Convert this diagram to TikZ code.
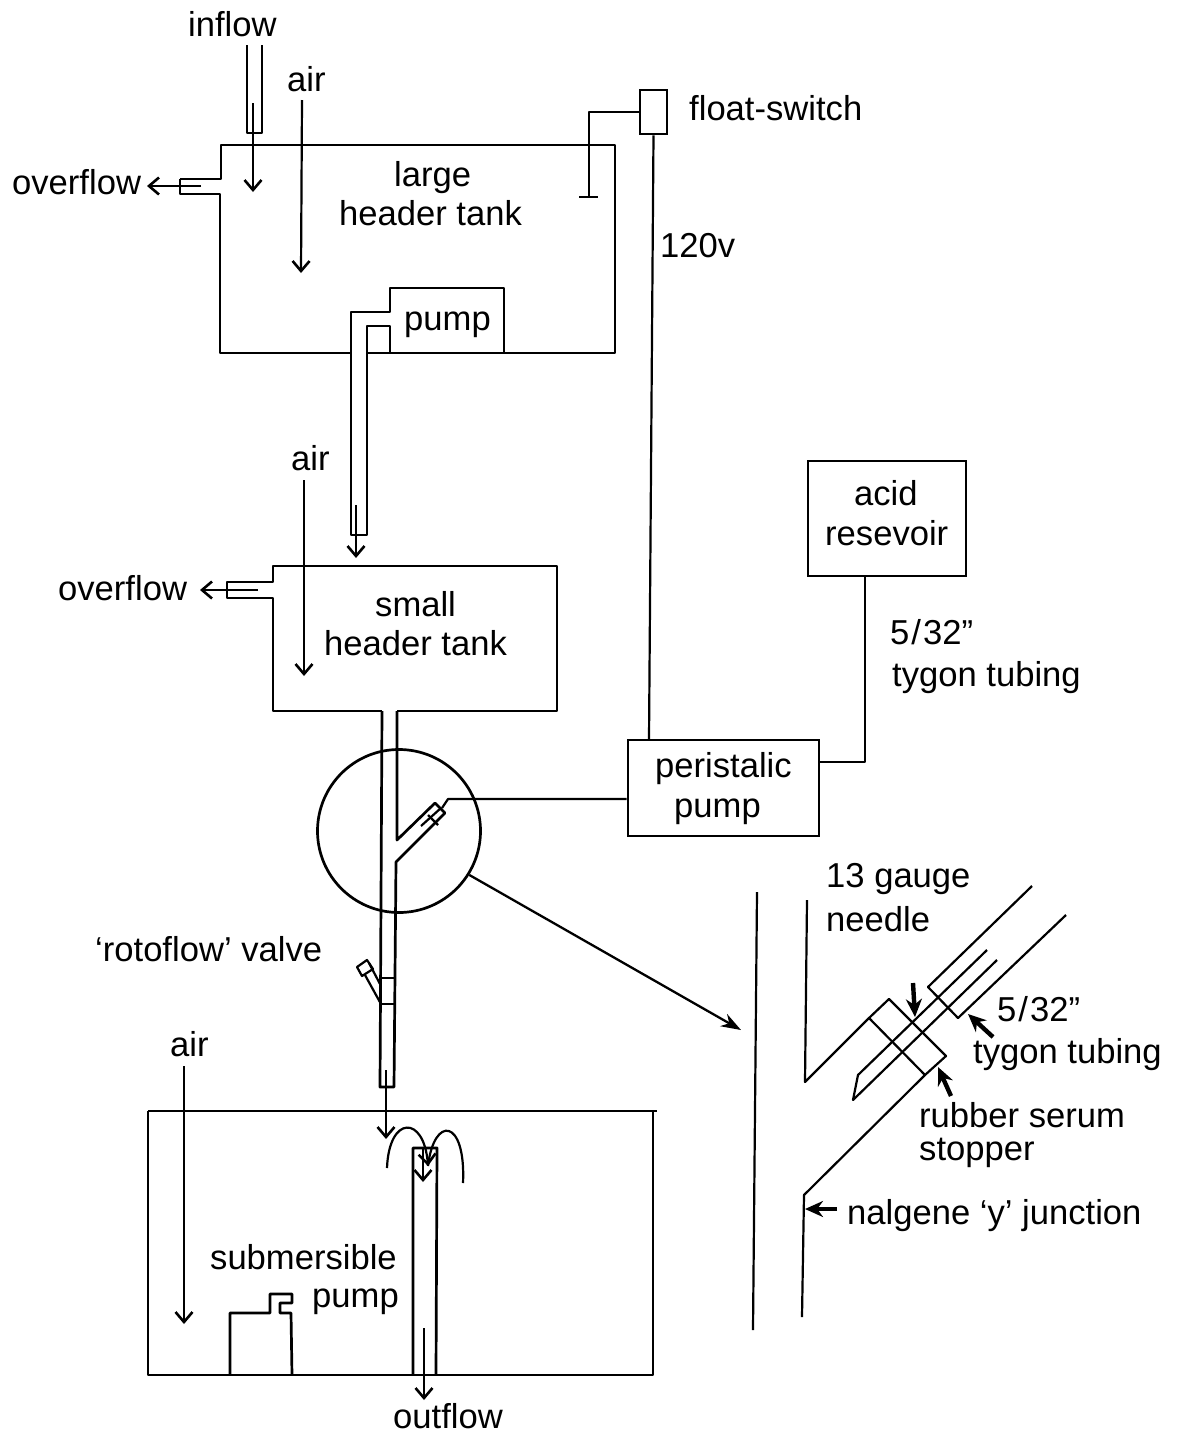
\documentclass[tikz,border=0pt]{standalone}
\usepackage{fontspec}
\setmainfont{Liberation Sans}
\usetikzlibrary{arrows.meta, calc, positioning}
\tikzset{
  tube/.style={line width=2.7pt, line join=round},
  thin tube/.style={line width=2.2pt, line join=round},
  lab/.style={inner sep=0pt, anchor=base west, font=\fontsize{34.6}{41}\selectfont},
  unit/.style={rectangle, draw, line width=2.7pt, inner sep=0pt},
  flow/.style={-{Straight Barb[length=10pt, width=17pt, line width=2.6pt]}, line width=2.2pt},
  point/.style={-{Stealth[length=18pt, width=16pt]}, line width=4.4pt}
}
\begin{document}
\begin{tikzpicture}[x=1pt, y=-1pt]
  \useasboundingbox (0,0) rectangle (1179,1433);

  % large header tank
  \draw[tube] (180,179) -- (221,179) -- (221,145) -- (615,145) -- (615,353) -- (390,353) -- (367,353);
  \draw[tube] (504,353) -- (504,288) -- (390,288) -- (390,312) -- (351,312) -- (351,535) -- (367,535)
    -- (367,326) -- (390,326) -- (390,353);
  \draw[tube] (351,353) -- (220,353) -- (220,194) -- (180,194) -- (180,179);
  \draw[tube] (247,45) -- (247,133) -- (262,133) -- (262,45);
  \node[lab] (inflow) at (188,36) {inflow};
  \node[lab] (air1) at (287,91) {air};
  \node[lab] (over1) at (12,194) {overflow};
  \node[lab] (large) at (394,186) {large};
  \node[lab] (head1) at (339,225) {header tank};
  \node[lab] (pump1) at (404,330) {pump};
  \coordinate (in1) at (253,103);
  \coordinate (in2) at (253,192);
  \draw[flow] (in1) -- (in2);
  \coordinate (air1a) at (302,100);
  \coordinate (air1b) at (301,273);
  \draw[flow] (air1a) -- (air1b);
  \coordinate (ov1a) at (201,186);
  \coordinate (ov1b) at (147,186);
  \draw[flow] (ov1a) -- (ov1b);
  \coordinate (drop1) at (356,505);
  \coordinate (drop2) at (356,558);
  \draw[flow] (drop1) -- (drop2);

  % float switch and power
  \node[unit, minimum width=27pt, minimum height=44pt] (float) at (653.5,112) {};
  \node[lab] (floatlab) at (689,120) {float-switch};
  \node[lab] (volt) at (660,257) {120v};
  \coordinate (probe) at (589,197);
  \coordinate (barl) at (579,197);
  \coordinate (barr) at (598,197);
  \draw[thin tube] (float.west) -| (probe);
  \draw[tube] (barl) -- (barr);

  % acid and peristaltic pump
  \node[unit, minimum width=158pt, minimum height=115pt] (acid) at (887,518.5) {};
  \node[lab] (acid1) at (854,505) {acid};
  \node[lab] (acid2) at (825,545) {resevoir};
  \node[unit, minimum width=191pt, minimum height=96pt] (peri) at (723.5,788) {};
  \node[lab] (peri1) at (655,777) {peristalic};
  \node[lab] (peri2) at (674,817) {pump};
  \coordinate (powerin) at (649,740);
  \draw[thin tube] (float.south) -- (powerin);
  \coordinate (acidout) at (865,576);
  \coordinate (periin) at (819,762);
  \draw[thin tube] (acidout) |- (periin);
  \node[lab] (size1) at (890,644) {5\kern2pt/\kern2pt32''};
  \node[lab] (tyg1) at (892,686) {tygon tubing};

  % small header tank
  \draw[tube] (382,711) -- (273,711) -- (273,598) -- (227,598) -- (227,582) -- (273,582) -- (273,566)
    -- (557,566) -- (557,711) -- (397,711);
  \node[lab] (air2) at (291,470) {air};
  \node[lab] (over2) at (58,600) {overflow};
  \node[lab] (small) at (375,616) {small};
  \node[lab] (head2) at (324,655) {header tank};
  \coordinate (air2a) at (304,480);
  \coordinate (air2b) at (304,676);
  \draw[flow] (air2a) -- (air2b);
  \coordinate (ov2a) at (258,590);
  \coordinate (ov2b) at (200,590);
  \draw[flow] (ov2a) -- (ov2b);

  % drop tube with y junction and valve
  \draw[tube] (382,711) -- (380,1087) -- (394,1087) -- (396,862) -- (445,813) -- (435,803) -- (397,840) -- (397,711);
  \draw[thin tube] (428,815) -- (438,825);
  \draw[thin tube] (421,826) -- (441,808);
  \draw[thin tube] (380,978) -- (394,978);
  \draw[thin tube] (381,1004) -- (394,1004);
  \draw[thin tube] (380,984) -- (369,963);
  \draw[thin tube] (381,1004) -- (365,975);
  \draw[thin tube] (357,967) -- (367,960) -- (373,969) -- (362,976) -- cycle;
  \node[draw, circle, line width=2.7pt, minimum size=163pt, inner sep=0pt] (zoomc) at (399,831) {};
  \coordinate (hose) at (448,799);
  \coordinate (stub) at (442,808);
  \draw[thin tube] (stub) -- (hose) -- (peri.west |- hose);
  \coordinate (zoomto) at (741,1030);
  \draw[-{Stealth[length=20pt, width=14pt]}, line width=2.3pt] (zoomc.-32) -- (zoomto);
  \node[lab] (roto) at (95,961) {`rotoflow' valve};
  \coordinate (fall1) at (386,1070);
  \coordinate (fall2) at (386,1139);
  \draw[flow] (fall1) -- (fall2);

  % sump
  \draw[tube] (148,1111) -- (657,1111);
  \draw[tube] (148,1111) -- (148,1375) -- (653,1375) -- (653,1111);
  \draw[tube] (413,1375) -- (413,1148) -- (437,1148) -- (436,1375);
  \draw[tube] (230,1375) -- (230,1313) -- (270,1313) -- (270,1294) -- (292,1294) -- (292,1303)
    -- (280,1303) -- (280,1313) -- (291,1313) -- (292,1375);
  \node[lab] (air3) at (170,1056) {air};
  \node[lab] (subm) at (210,1269) {submersible};
  \node[lab] (pump3) at (312,1307) {pump};
  \node[lab] (outl) at (393,1428) {outflow};
  \coordinate (air3a) at (184,1066);
  \coordinate (air3b) at (184,1324);
  \draw[flow] (air3a) -- (air3b);
  \coordinate (out1) at (424,1328);
  \coordinate (out2) at (424,1400);
  \draw[flow] (out1) -- (out2);
  \coordinate (stand1) at (423,1148);
  \coordinate (stand2) at (423,1182);
  \draw[flow] (stand1) -- (stand2);
  \coordinate (spl) at (387,1168);
  \coordinate (spm) at (428,1166);
  \coordinate (spr) at (463,1183);
  \draw[flow] (spl) .. controls (389,1115) and (424,1115) .. (spm);
  \draw[thin tube] (spm) .. controls (434,1115) and (466,1118) .. (spr);

  % enlarged junction
  \draw[thin tube] (757,892) -- (753,1330);
  \draw[thin tube] (807,900) -- (805,1082) -- (869,1018);
  \draw[thin tube] (889,999) -- (946,1056) -- (925,1075) -- (869,1018) -- cycle;
  \draw[thin tube] (925,1075) -- (804,1195) -- (802,1317);
  \draw[thin tube] (987,950) -- (858,1075) -- (853,1100) -- (997,960);
  \draw[thin tube] (1032,886) -- (928,987) -- (958,1018) -- (1066,915);
  \node[lab] (gauge) at (826,887) {13 gauge};
  \node[lab] (needle) at (826,931) {needle};
  \node[lab] (size2) at (997,1021) {5\kern2pt/\kern2pt32''};
  \node[lab] (tyg2) at (973,1063) {tygon tubing};
  \node[lab] (rubber) at (919,1127) {rubber serum};
  \node[lab] (stopper) at (919,1160) {stopper};
  \node[lab] (nalg) at (847,1224) {nalgene `y' junction};
  \coordinate (pa1) at (913,983);
  \coordinate (pa2) at (915,1017);
  \draw[point] (pa1) -- (pa2);
  \coordinate (pb1) at (993,1037);
  \coordinate (pb2) at (968,1014);
  \draw[point] (pb1) -- (pb2);
  \coordinate (pc1) at (951,1096);
  \coordinate (pc2) at (938,1067);
  \draw[point] (pc1) -- (pc2);
  \coordinate (pd1) at (837,1209);
  \coordinate (pd2) at (805,1209);
  \draw[point] (pd1) -- (pd2);
\end{tikzpicture}
\end{document}
